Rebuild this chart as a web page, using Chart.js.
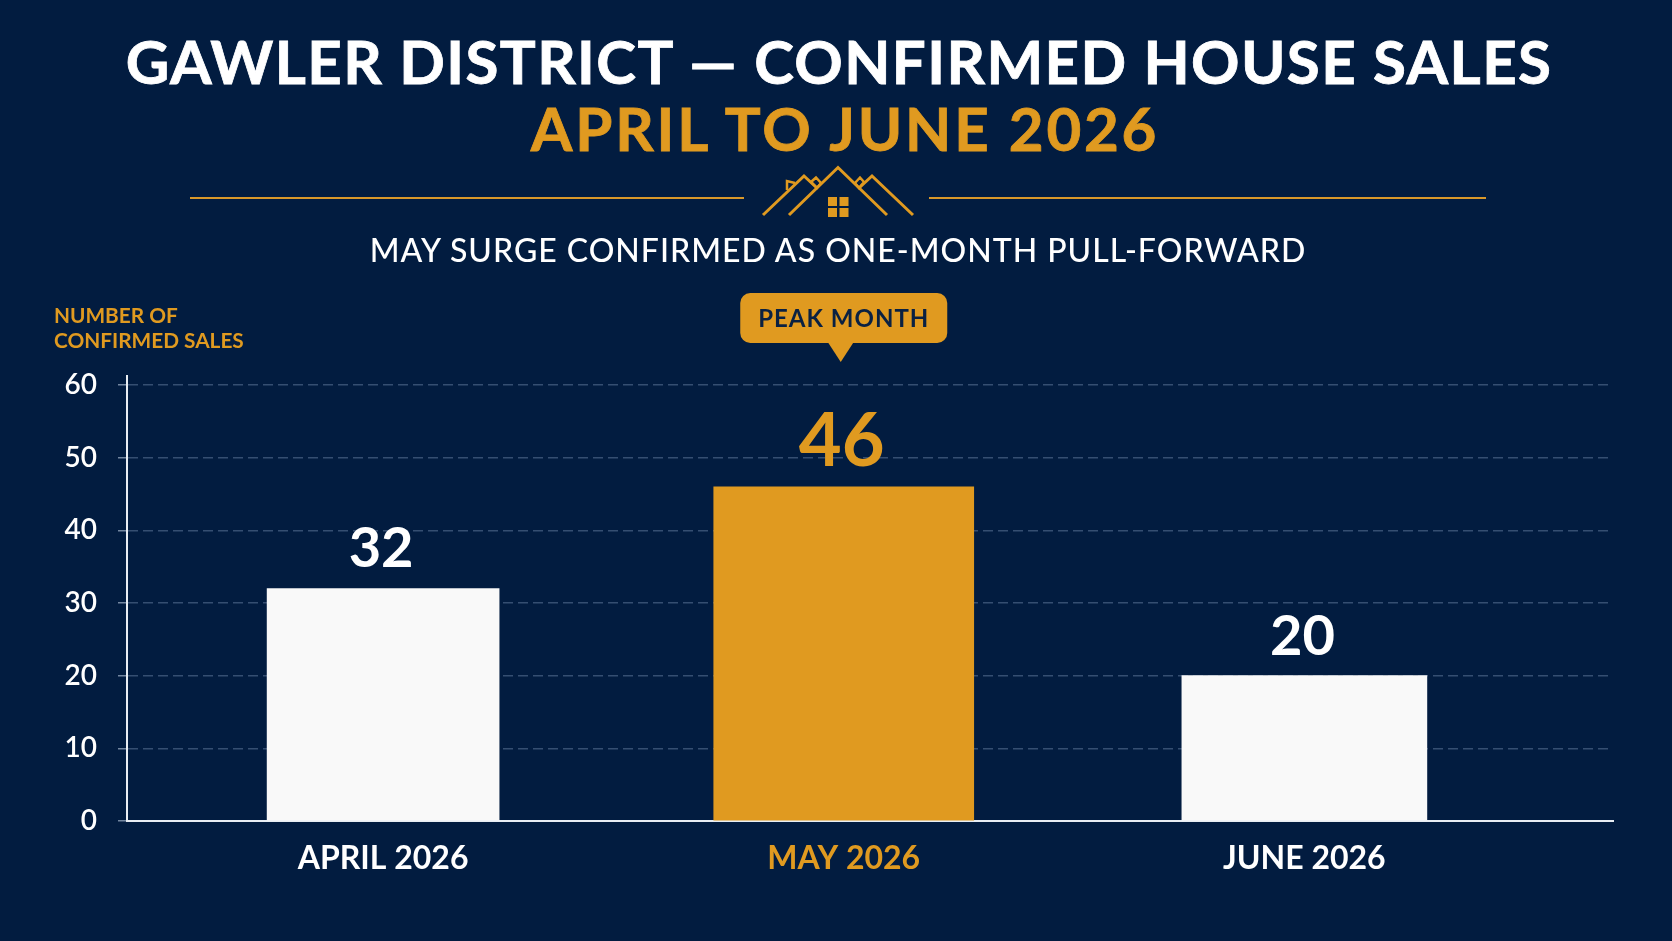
<!DOCTYPE html>
<html>
<head>
<meta charset="utf-8">
<title>Gawler District confirmed house sales</title>
<script src="https://cdn.jsdelivr.net/npm/chart.js@4/dist/chart.umd.min.js"></script>
<style>
  html, body { margin: 0; width: 1672px; height: 941px; overflow: hidden; background: #021c40; }
  body { position: relative; font-family: Lato, sans-serif; }
  #chart { position: absolute; left: 0; top: 0; }
  .line { position: absolute; white-space: nowrap; margin: 0; transform: translate(-50%, -50%); }
  #title { left: 839px; top: 61px; font-size: 60px; font-weight: 700; color: #fff; letter-spacing: 1.4px; -webkit-text-stroke: 0.8px #fff; }
  #period { left: 845px; top: 128px; font-size: 60px; font-weight: 700; color: #e09a20; letter-spacing: 2.8px; -webkit-text-stroke: 0.8px #e09a20; }
  #note { left: 838px; top: 249px; font-size: 32px; font-weight: 500; color: #fff; letter-spacing: 1px; }
  #axisCaption { position: absolute; left: 54px; top: 302px; font-size: 20.8px; line-height: 25px; font-weight: 700; color: #e09a20; }
  .rule { position: absolute; top: 197px; height: 2px; background: #d9982a; }
  #house { position: absolute; left: 0; top: 0; }
</style>
</head>
<body>
<canvas id="chart" width="1672" height="941"></canvas>
<h1 id="title" class="line">GAWLER DISTRICT — CONFIRMED HOUSE SALES</h1>
<h2 id="period" class="line">APRIL TO JUNE 2026</h2>
<div class="rule" style="left:190px;width:554px"></div>
<div class="rule" style="left:929px;width:557px"></div>
<svg id="house" width="1672" height="941" fill="none" stroke="#e09a20" stroke-width="3">
  <path d="M789 215 L838 167.5 L887 215" />
  <path d="M763 215 L804 176 L817 188 M859 188 L872 176 L913 215" />
  <path d="M787 190 V181 L795 183" stroke-width="2.5" />
  <path d="M811 182 L816 177.5 L821 183 L817 188 Z M855 183 L860 177.5 L864 182 L859 188 Z" stroke-width="2.5" />
  <g fill="#e09a20" stroke="none">
    <rect x="828" y="197" width="9" height="9" />
    <rect x="839.5" y="197" width="9" height="9" />
    <rect x="828" y="208" width="9" height="9" />
    <rect x="839.5" y="208" width="9" height="9" />
  </g>
</svg>
<p id="note" class="line">MAY SURGE CONFIRMED AS ONE-MONTH PULL-FORWARD</p>
<div id="axisCaption">NUMBER OF<br>CONFIRMED SALES</div>

<script>
const categories = ['APRIL 2026', 'MAY 2026', 'JUNE 2026'];
const sales = [32, 46, 20];
const yTicks = [0, 10, 20, 30, 40, 50, 60];
const peakLabel = 'PEAK MONTH';

const WHITE = '#f9f9f9';
const GOLD = '#e09a20';
const peakIndex = sales.indexOf(Math.max(...sales));
const barWidths = [232, 260, 245];

function barColor(i) {
  return i === peakIndex ? GOLD : WHITE;
}

// value above each bar, the peak one larger and in gold
const valueLabels = {
  id: 'valueLabels',
  afterDatasetsDraw(chart) {
    const { ctx } = chart;
    ctx.save();
    ctx.textAlign = 'center';
    ctx.textBaseline = 'alphabetic';
    sales.forEach((value, i) => {
      const bar = chart.getDatasetMeta(i).data[0];
      const big = i === peakIndex;
      ctx.font = `700 ${big ? 74 : 56}px Lato`;
      ctx.fillStyle = big ? GOLD : '#fff';
      ctx.fillText(String(value), bar.x - 2, bar.y - 21);
    });
    ctx.restore();
  },
};

// speech bubble over the highest month
const peakBadge = {
  id: 'peakBadge',
  afterDatasetsDraw(chart) {
    const { ctx } = chart;
    const cx = chart.scales.x.getPixelForValue(peakIndex);
    const w = 207, h = 50, top = 293;
    ctx.save();
    ctx.fillStyle = GOLD;
    ctx.beginPath();
    ctx.roundRect(cx - w / 2, top, w, h, 10);
    ctx.fill();
    ctx.beginPath();
    ctx.moveTo(cx - 16, top + h - 1);
    ctx.lineTo(cx + 10, top + h - 1);
    ctx.lineTo(cx - 3, top + h + 19);
    ctx.closePath();
    ctx.fill();
    ctx.fillStyle = '#0a2142';
    ctx.font = '700 24px Lato';
    ctx.letterSpacing = '1px';
    ctx.textAlign = 'center';
    ctx.textBaseline = 'middle';
    ctx.fillText(peakLabel, cx, top + h / 2 + 1);
    ctx.restore();
  },
};

// the value axis runs a little past its top tick
const axisExtension = {
  id: 'axisExtension',
  beforeDatasetsDraw(chart) {
    const { ctx, chartArea } = chart;
    ctx.save();
    ctx.strokeStyle = '#e8edf3';
    ctx.lineWidth = 2;
    ctx.beginPath();
    ctx.moveTo(chartArea.left, chartArea.top - 10);
    ctx.lineTo(chartArea.left, chartArea.top);
    ctx.stroke();
    ctx.restore();
  },
};

new Chart(document.getElementById('chart'), {
  type: 'bar',
  data: {
    datasets: sales.map((value, i) => ({
      label: categories[i],
      data: [{ x: i, y: value }],
      backgroundColor: barColor(i),
      barThickness: barWidths[i],
      grouped: false,
    })),
  },
  plugins: [axisExtension, valueLabels, peakBadge],
  options: {
    responsive: false,
    animation: false,
    layout: { padding: { top: 385, right: 59, left: 0, bottom: 0 } },
    plugins: { legend: { display: false }, tooltip: { enabled: false } },
    scales: {
      x: {
        type: 'linear',
        offset: false,
        min: -0.556,
        max: 2.67,
        afterBuildTicks(scale) {
          scale.ticks = categories.map((_, i) => ({ value: i }));
        },
        afterFit(scale) {
          scale.height = 120;
          scale.paddingLeft = 0;
          scale.paddingRight = 0;
        },
        grid: { display: false, offset: false },
        border: { color: '#e8edf3', width: 2 },
        ticks: {
          padding: 10,
          maxRotation: 0,
          autoSkip: false,
          color: (ctx) => (ctx.tick.value === peakIndex ? GOLD : '#fff'),
          font: { family: 'Lato', size: 32, weight: '700' },
          callback: (value) => categories[value],
        },
      },
      y: {
        min: 0,
        max: 60,
        afterBuildTicks(scale) {
          scale.ticks = yTicks.map((value) => ({ value }));
        },
        afterFit(scale) {
          scale.width = 127;
          scale.paddingTop = 0;
          scale.paddingBottom = 0;
        },
        grid: {
          color: 'rgba(150, 172, 205, 0.35)',
          tickColor: 'rgba(190, 205, 225, 0.6)',
          tickLength: 9,
          lineWidth: 1.5,
        },
        border: { color: '#e8edf3', width: 2, dash: [10, 5] },
        ticks: {
          padding: 21,
          color: '#fff',
          font: { family: 'Lato', size: 28, weight: '600' },
        },
      },
    },
  },
});
</script>
</body>
</html>
